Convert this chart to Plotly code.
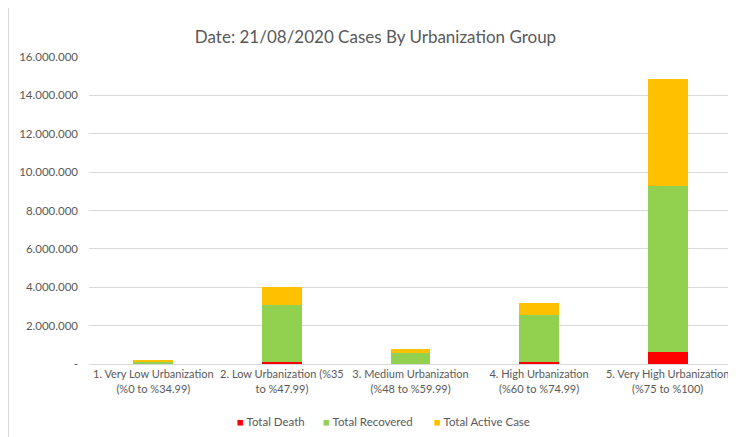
import plotly.graph_objects as go

categories = [
    "1. Very Low Urbanization<br>(%0 to %34.99)",
    "2. Low Urbanization (%35<br>to %47.99)",
    "3. Medium Urbanization<br>(%48 to %59.99)",
    "4. High Urbanization<br>(%60 to %74.99)",
    "5. Very High Urbanization<br>(%75 to %100)",
]
series_names = ["Total Death", "Total Recovered", "Total Active Case"]
total_death = [3000, 80000, 15000, 110000, 600000]
total_recovered = [117000, 2990000, 545000, 2450000, 8670000]
total_active = [50000, 930000, 220000, 610000, 5570000]

tick_vals = [0, 2000000, 4000000, 6000000, 8000000, 10000000, 12000000, 14000000, 16000000]
tick_text = ["-", "2.000.000", "4.000.000", "6.000.000", "8.000.000",
             "10.000.000", "12.000.000", "14.000.000", "16.000.000"]

FONT = "Lato"
GREY = "#595959"
COLORS = ["#FF0000", "#92D050", "#FFC000"]

fig = go.Figure()
for name, vals, col in zip(series_names, [total_death, total_recovered, total_active], COLORS):
    fig.add_trace(go.Bar(name=name, x=categories, y=vals,
                         marker=dict(color=col, line=dict(width=0)),
                         showlegend=False))

# page body has an 8px margin: figure coordinates = screenshot coords - 8
W, H = 728, 429
L, T = 81, 49
PR, PB = 724, 356
R, B = W - PR, H - PB
pw = PR - L
ph = PB - T

# legend drawn as text annotations (positions in screenshot px minus 8)
legend_x = [227, 313, 424]
annotations = []
for name, col, lx in zip(series_names, COLORS, legend_x):
    annotations.append(dict(
        text=f"<span style='color:{col}'>■</span> {name}",
        xref="paper", yref="paper",
        x=(lx - L) / pw, xanchor="left",
        y=(PB - 413) / ph, yanchor="middle",
        showarrow=False,
        font=dict(family=FONT, size=11.5, color=GREY)))

fig.update_layout(
    width=W, height=H,
    barmode="stack",
    bargap=0.69,
    margin=dict(l=L, r=R, t=T, b=B, pad=0, autoexpand=False),
    paper_bgcolor="white",
    plot_bgcolor="white",
    font=dict(family=FONT, color=GREY, size=12),
    title=dict(text="Date: 21/08/2020 Cases By Urbanization Group",
               x=367.5 / W, xanchor="center",
               y=1 - 29 / H, yanchor="middle",
               font=dict(family=FONT, size=17, color=GREY)),
    showlegend=False,
    annotations=annotations,
    yaxis=dict(range=[0, 16000000], tickvals=tick_vals, ticktext=tick_text,
               showgrid=True, gridcolor="#d9d9d9", gridwidth=1,
               zeroline=False, showline=False, ticks="",
               ticklabelstandoff=10, automargin=False,
               tickfont=dict(family=FONT, size=11.5, color=GREY)),
    xaxis=dict(showline=True, linecolor="#d9d9d9", linewidth=1,
               ticks="", tickangle=0, automargin=False,
               tickfont=dict(family=FONT, size=11, color=GREY)),
    shapes=[dict(type="rect", xref="paper", yref="paper",
                 x0=(0.5 - L) / pw, x1=(760 - L) / pw,
                 y0=(PB - 460) / ph, y1=(PB + 0.5) / ph,
                 line=dict(color="#d9d9d9", width=1), fillcolor="rgba(0,0,0,0)",
                 layer="below")],
)

fig.write_html("out.html")
